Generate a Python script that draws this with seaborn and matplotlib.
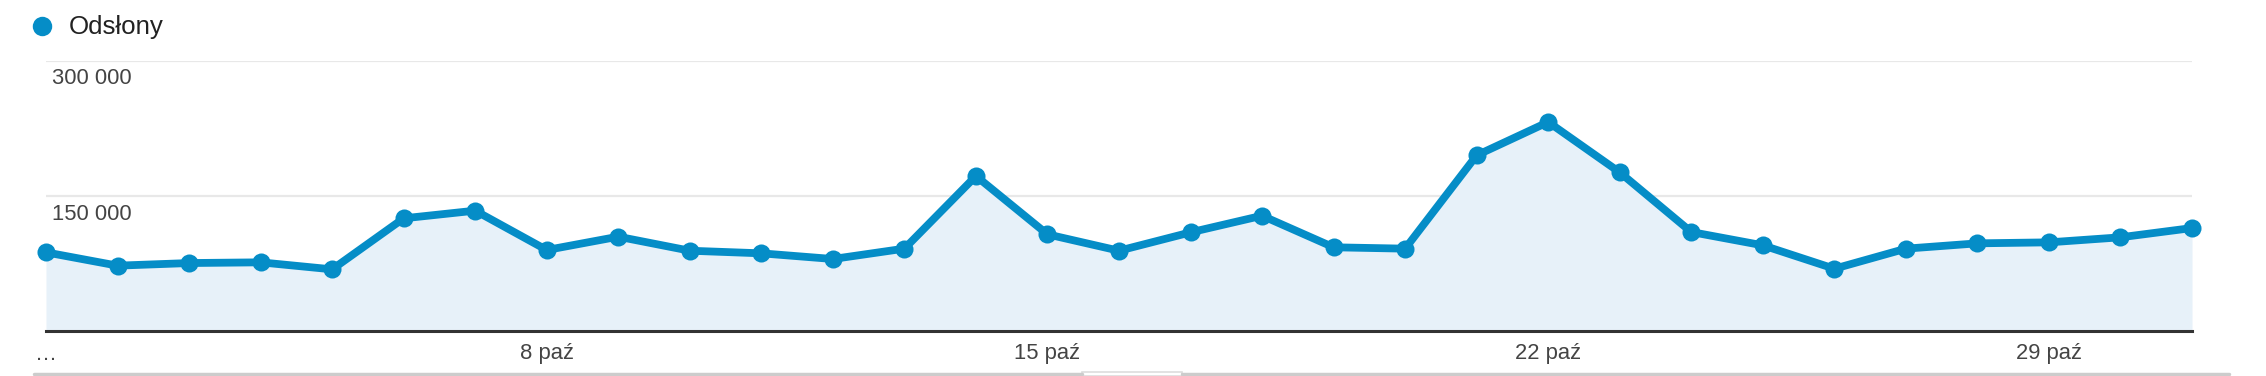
import matplotlib
matplotlib.use("Agg")
import matplotlib.pyplot as plt
import seaborn as sns
import pandas as pd
from matplotlib.lines import Line2D
from matplotlib.patches import Rectangle

# ---- data ----
days = list(range(1, 32))
pageviews = [87400, 72600, 75500, 76300, 68500, 125200, 133700, 90000, 104800, 89200,
             86300, 80000, 91500, 172200, 107400, 89200, 109600, 128100, 93000, 91500,
             195200, 232200, 176300, 110000, 95200, 69200, 91500, 97400, 98500, 104100,
             114400]
xtick_days = [1, 8, 15, 22, 29]
xtick_labels = ["…", "8 paź", "15 paź", "22 paź", "29 paź"]
ytick_values = [150000, 300000]
ytick_labels = ["150 000", "300 000"]
series_name = "Odsłony"

LINE = "#058DC7"
FILL = "#E7F1F9"

sns.set_theme(style="white")
plt.rcParams["font.family"] = ["Liberation Sans", "DejaVu Sans"]

fig = plt.figure(figsize=(22.66, 3.76), dpi=100)
ax = fig.add_axes([46 / 2266, 1 - 331 / 376, (2192 - 46) / 2266, (331 - 61) / 376])

df = pd.DataFrame({"day": days, "value": pageviews})
ax.fill_between(df["day"], 0, df["value"], color=FILL, zorder=1, linewidth=0)
sns.lineplot(data=df, x="day", y="value", ax=ax, color=LINE, linewidth=5.6,
             marker="o", markersize=13, markeredgewidth=0, zorder=3, clip_on=False)

ax.set_xlim(days[0], days[-1])
ax.set_ylim(0, 300000)

# grid lines
for v in ytick_values:
    ax.axhline(v, color="#e8e8e8", linewidth=1.6, zorder=0)

ax.set_yticks([])
for v, lab in zip(ytick_values, ytick_labels):
    ax.annotate(lab, xy=(0, v), xycoords=("axes fraction", "data"),
                xytext=(6, -18), textcoords="offset pixels",
                ha="left", va="center", fontsize=15.8, color="#444444")

ax.set_xticks(xtick_days)
ax.set_xticklabels(xtick_labels, fontsize=15.8, color="#444444")
ax.tick_params(axis="x", length=0, pad=9)

for s in ["top", "left", "right"]:
    ax.spines[s].set_visible(False)
ax.spines["bottom"].set_color("#333333")
ax.spines["bottom"].set_linewidth(2.2)
ax.spines["bottom"].set_zorder(4)
ax.set_xlabel("")
ax.set_ylabel("")

# legend
fig.add_artist(Line2D([42 / 2266], [1 - 26 / 376], marker="o", color=LINE,
                      markersize=14, markeredgewidth=0, linestyle="none"))
fig.text(69 / 2266, 1 - 27 / 376, series_name, fontsize=18.6, color="#222222",
         ha="left", va="center")

# bottom separator line with small tab
fig.add_artist(Line2D([34 / 2266, 1082 / 2266], [1 - 373.5 / 376] * 2,
                      color="#cccccc", linewidth=2.5))
fig.add_artist(Line2D([1182 / 2266, 2229 / 2266], [1 - 373.5 / 376] * 2,
                      color="#cccccc", linewidth=2.5))
fig.add_artist(Rectangle((1082 / 2266, 0), 100 / 2266, 4 / 376,
                         facecolor="white", edgecolor="#dddddd", linewidth=1.2,
                         transform=fig.transFigure))

fig.savefig("out.png", dpi=100, facecolor="white")
